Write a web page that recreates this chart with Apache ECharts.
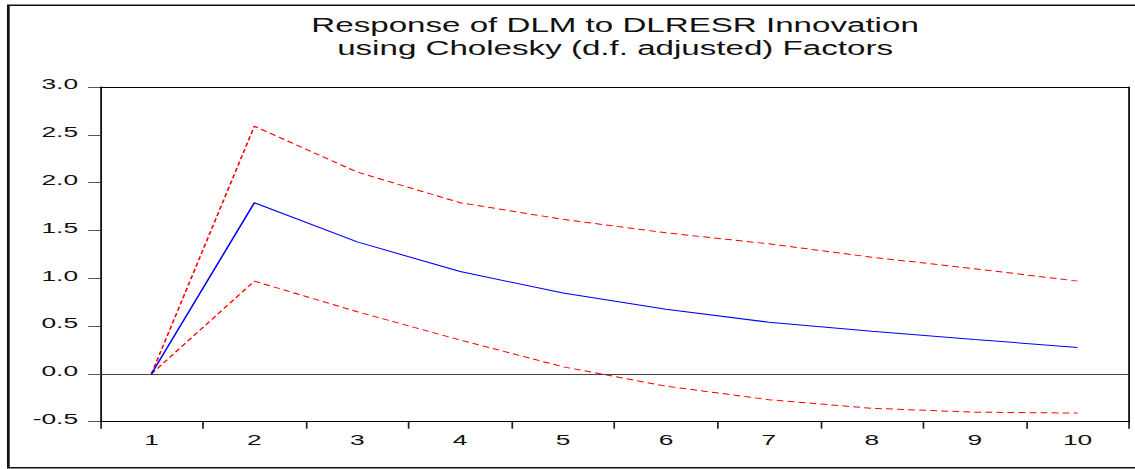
<!DOCTYPE html>
<html>
<head>
<meta charset="utf-8">
<script src="https://cdn.jsdelivr.net/npm/echarts@6/dist/echarts.min.js"></script>
<style>
  html, body { margin: 0; padding: 0; background: #fff; overflow: hidden; }
  #chart { width: 668px; height: 469px; transform: scaleX(1.6991); transform-origin: 0 0; }
</style>
</head>
<body>
<div id="chart"></div>
<script>
const titleLines = ["Response of DLM to DLRESR Innovation", "using Cholesky (d.f. adjusted) Factors"];
const periods = ["1", "2", "3", "4", "5", "6", "7", "8", "9", "10"];
const response = [0, 1.79, 1.38, 1.07, 0.845, 0.675, 0.54, 0.445, 0.36, 0.277];
const upperBand = [0, 2.59, 2.11, 1.79, 1.616, 1.475, 1.36, 1.22, 1.10, 0.97];
const lowerBand = [0, 0.97, 0.65, 0.354, 0.074, -0.128, -0.27, -0.36, -0.40, -0.41];
const yTicks = { min: -0.5, max: 3.0, step: 0.5 };

const FONT = "'Liberation Sans', Arial, sans-serif";
const chart = echarts.init(document.getElementById('chart'), null, { renderer: 'svg' });

const dashStyle = { color: '#ff0000', width: 1, type: [4, 2.5] };
const frameAxisLine = { show: true, onZero: false, lineStyle: { color: '#000', width: 1 } };

chart.setOption({
  animation: false,
  backgroundColor: '#ffffff',
  title: {
    text: titleLines.join('\n'),
    left: 362,
    top: 14,
    textAlign: 'center',
    padding: 0,
    textStyle: { fontFamily: FONT, fontSize: 19.5, fontWeight: 'normal', color: '#111', lineHeight: 23 }
  },
  graphic: [{
    type: 'rect',
    shape: { x: 4.9, y: 5.2, width: 680, height: 462.6 },
    style: { fill: 'none', stroke: '#111', lineWidth: 1.6 },
    silent: true,
    z: 100
  }],
  grid: { left: 58.85, right: 3.5, top: 87, bottom: 47.3 },
  xAxis: [{
    type: 'category',
    data: periods,
    boundaryGap: true,
    axisLine: frameAxisLine,
    axisTick: { show: true, inside: false, length: 7, alignWithLabel: false, lineStyle: { color: '#222' } },
    axisLabel: { fontFamily: FONT, fontSize: 15.5, color: '#111', margin: 10 },
    splitLine: { show: false }
  }, {
    type: 'category',
    data: periods,
    position: 'top',
    boundaryGap: true,
    axisLine: frameAxisLine,
    axisTick: { show: false },
    axisLabel: { show: false },
    splitLine: { show: false }
  }],
  yAxis: [{
    type: 'value',
    min: yTicks.min, max: yTicks.max, interval: yTicks.step,
    axisLine: frameAxisLine,
    axisTick: { show: true, inside: false, length: 7, lineStyle: { color: '#555' } },
    axisLabel: {
      fontFamily: FONT, fontSize: 15.5, color: '#111', margin: 12.9,
      verticalAlign: 'bottom', lineHeight: 6,
      formatter: v => v.toFixed(1)
    },
    splitLine: { show: false }
  }, {
    type: 'value',
    position: 'right',
    min: yTicks.min, max: yTicks.max, interval: yTicks.step,
    axisLine: frameAxisLine,
    axisTick: { show: false },
    axisLabel: { show: false },
    splitLine: { show: false }
  }],
  series: [
    {
      name: 'Response', type: 'line', data: response, symbol: 'none',
      lineStyle: { color: '#0000ff', width: 1 }, z: 3,
      markLine: {
        silent: true, symbol: 'none', label: { show: false },
        lineStyle: { color: '#444', width: 1, type: 'solid' },
        data: [{ yAxis: 0 }]
      }
    },
    { name: 'Upper', type: 'line', data: upperBand, symbol: 'none', lineStyle: dashStyle, z: 2 },
    { name: 'Lower', type: 'line', data: lowerBand, symbol: 'none', lineStyle: dashStyle, z: 2 }
  ]
});
</script>
</body>
</html>
